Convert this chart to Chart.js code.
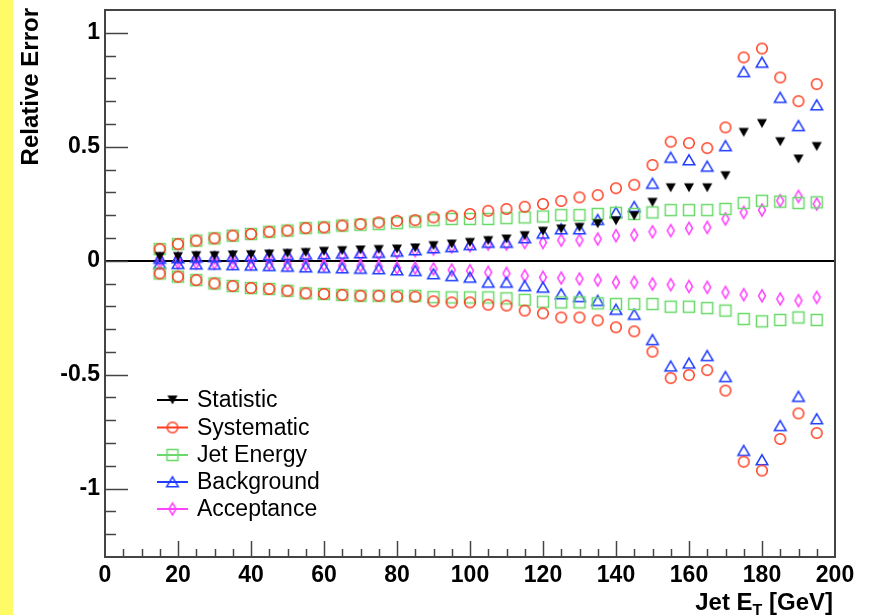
<!DOCTYPE html>
<html>
<head>
<meta charset="utf-8">
<title>Relative Error vs Jet ET</title>
<script src="https://cdn.jsdelivr.net/npm/chart.js@4.4.1/dist/chart.umd.min.js"></script>
<style>
  html, body { margin: 0; padding: 0; background: #ffffff; }
  canvas { display: block; }
</style>
</head>
<body>
<canvas id="errChart" width="870" height="615"></canvas>
<script>
// jet ET bin centres [GeV]
const jetEt = [15, 20, 25, 30, 35, 40, 45, 50, 55, 60, 65, 70, 75, 80, 85, 90, 95, 100, 105,
  110, 115, 120, 125, 130, 135, 140, 145, 150, 155, 160, 165, 170, 175, 180, 185, 190, 195];

const statistic = [0.018, 0.018, 0.022, 0.022, 0.025, 0.026, 0.029, 0.032, 0.036, 0.041, 0.044, 0.047, 0.049,
  0.051, 0.056, 0.066, 0.073, 0.080, 0.088, 0.095, 0.110, 0.129, 0.139, 0.146, 0.162,
  0.175, 0.197, 0.256, 0.320, 0.320, 0.320, 0.373, 0.563, 0.602, 0.522, 0.446, 0.501];

const systUp = [0.051, 0.073, 0.088, 0.098, 0.110, 0.117, 0.127, 0.132, 0.143, 0.146, 0.154, 0.161, 0.168,
  0.175, 0.178, 0.190, 0.197, 0.205, 0.219, 0.227, 0.237, 0.249, 0.262, 0.278, 0.288,
  0.318, 0.333, 0.420, 0.522, 0.516, 0.494, 0.585, 0.892, 0.931, 0.804, 0.700, 0.775];
const systDown = [-0.056, -0.070, -0.085, -0.100, -0.111, -0.120, -0.124, -0.132, -0.143, -0.146, -0.150, -0.154, -0.154,
  -0.158, -0.158, -0.178, -0.183, -0.183, -0.193, -0.197, -0.219, -0.231, -0.249, -0.249, -0.262,
  -0.292, -0.310, -0.399, -0.515, -0.502, -0.480, -0.570, -0.882, -0.921, -0.782, -0.670, -0.756];

const jesUp = [0.051, 0.073, 0.088, 0.098, 0.110, 0.117, 0.127, 0.132, 0.143, 0.146, 0.154, 0.158, 0.161,
  0.165, 0.172, 0.178, 0.183, 0.183, 0.183, 0.187, 0.190, 0.194, 0.200, 0.200, 0.205,
  0.210, 0.205, 0.212, 0.222, 0.222, 0.222, 0.227, 0.253, 0.263, 0.259, 0.253, 0.256];
const jesDown = [-0.056, -0.070, -0.085, -0.100, -0.111, -0.120, -0.124, -0.132, -0.143, -0.146, -0.150, -0.154, -0.154,
  -0.154, -0.154, -0.160, -0.161, -0.161, -0.161, -0.165, -0.172, -0.180, -0.183, -0.183, -0.187,
  -0.190, -0.190, -0.190, -0.202, -0.202, -0.208, -0.219, -0.256, -0.266, -0.260, -0.249, -0.260];

const bkgUp = [0.010, 0.012, 0.015, 0.017, 0.020, 0.022, 0.024, 0.026, 0.028, 0.030, 0.032, 0.034, 0.036,
  0.041, 0.047, 0.056, 0.061, 0.070, 0.080, 0.080, 0.100, 0.120, 0.139, 0.139, 0.180,
  0.212, 0.237, 0.339, 0.453, 0.442, 0.414, 0.504, 0.829, 0.870, 0.716, 0.592, 0.683];
const bkgDown = [-0.012, -0.013, -0.015, -0.016, -0.018, -0.020, -0.022, -0.025, -0.028, -0.030, -0.032, -0.034, -0.036,
  -0.041, -0.044, -0.058, -0.066, -0.073, -0.095, -0.095, -0.110, -0.117, -0.146, -0.158, -0.175,
  -0.214, -0.236, -0.347, -0.463, -0.450, -0.417, -0.509, -0.833, -0.874, -0.724, -0.596, -0.694];

const accUp = [0.008, 0.010, 0.011, 0.012, 0.013, 0.015, 0.016, 0.018, 0.020, 0.022, 0.024, 0.026, 0.029,
  0.036, 0.044, 0.051, 0.061, 0.066, 0.073, 0.073, 0.080, 0.080, 0.090, 0.090, 0.095,
  0.110, 0.113, 0.127, 0.132, 0.142, 0.146, 0.183, 0.212, 0.222, 0.263, 0.282, 0.249];
const accDown = [-0.008, -0.009, -0.010, -0.011, -0.012, -0.013, -0.014, -0.016, -0.018, -0.020, -0.022, -0.024, -0.026,
  -0.032, -0.032, -0.036, -0.041, -0.044, -0.051, -0.056, -0.066, -0.073, -0.076, -0.080, -0.085,
  -0.095, -0.095, -0.102, -0.105, -0.113, -0.117, -0.139, -0.149, -0.154, -0.168, -0.175, -0.161];

const seriesNames = ['Statistic', 'Systematic', 'Jet Energy', 'Background', 'Acceptance'];
const xTicks = [0, 20, 40, 60, 80, 100, 120, 140, 160, 180, 200];
const yTicks = [-1, -0.5, 0, 0.5, 1];

const FONT = '"Liberation Sans", Arial, Helvetica, sans-serif';

// root-style marker glyphs, drawn once and used as point images
function marker(shape, color) {
  const c = document.createElement('canvas');
  c.width = 16; c.height = 16;
  const g = c.getContext('2d');
  g.strokeStyle = color;
  g.fillStyle = color;
  g.lineWidth = 1.5;
  g.beginPath();
  if (shape === 'down') {
    g.moveTo(3, 3.5); g.lineTo(13, 3.5); g.lineTo(8, 12.5); g.closePath(); g.fill();
  } else if (shape === 'circle') {
    g.arc(8, 8, 5.3, 0, Math.PI * 2); g.stroke();
  } else if (shape === 'square') {
    g.rect(2.5, 2.5, 11, 11); g.stroke();
  } else if (shape === 'up') {
    g.moveTo(8, 2.8); g.lineTo(13.8, 12.8); g.lineTo(2.2, 12.8); g.closePath(); g.stroke();
  } else if (shape === 'diamond') {
    g.moveTo(8, 2); g.lineTo(11.5, 8); g.lineTo(8, 14); g.lineTo(4.5, 8); g.closePath(); g.stroke();
  }
  return c;
}

const colors = ['#000000', '#ff3c1e', '#6ad96a', '#1e3cff', '#ff44ff'];
const markers = [
  marker('down', colors[0]),
  marker('circle', colors[1]),
  marker('square', colors[2]),
  marker('up', colors[3]),
  marker('diamond', colors[4])
];

function pts(up, down) {
  const out = jetEt.map((x, i) => ({ x: x, y: up[i] }));
  if (down) jetEt.forEach((x, i) => out.push({ x: x, y: down[i] }));
  return out;
}

const seriesData = [
  pts(statistic),
  pts(systUp, systDown),
  pts(jesUp, jesDown),
  pts(bkgUp, bkgDown),
  pts(accUp, accDown)
];

const datasets = seriesNames.map((name, i) => ({
  label: name,
  data: seriesData[i],
  pointStyle: markers[i],
  pointRadius: 8,
  pointHoverRadius: 8,
  showLine: false
}));

// frame, root ticks, zero line, titles, legend
const rootDecor = {
  id: 'rootDecor',
  beforeDraw(chart) {
    const ctx = chart.ctx;
    ctx.save();
    ctx.fillStyle = '#fffb66';
    ctx.fillRect(0, 0, 13, chart.height);
    ctx.restore();
  },
  beforeDatasetsDraw(chart) {
    const { ctx, chartArea: a, scales: { x, y } } = chart;
    ctx.save();
    // zero line
    ctx.strokeStyle = '#000000';
    ctx.lineWidth = 2;
    const y0 = Math.round(y.getPixelForValue(0));
    ctx.beginPath();
    ctx.moveTo(a.left, y0); ctx.lineTo(a.right, y0);
    ctx.stroke();

    ctx.strokeStyle = '#444444';
    ctx.lineWidth = 1.5;
    // y ticks on the left edge
    for (let k = -12; k <= 10; k++) {
      const v = k / 10;
      const py = Math.round(y.getPixelForValue(v)) + 0.5;
      const len = (k % 5 === 0) ? 23 : 11;
      ctx.beginPath();
      ctx.moveTo(a.left, py); ctx.lineTo(a.left + len, py);
      ctx.stroke();
    }
    // x ticks on the bottom edge
    for (let v = 5; v < 200; v += 5) {
      const px = Math.round(x.getPixelForValue(v)) + 0.5;
      const len = (v % 20 === 0) ? 16 : 8;
      ctx.beginPath();
      ctx.moveTo(px, a.bottom); ctx.lineTo(px, a.bottom - len);
      ctx.stroke();
    }
    // frame
    ctx.lineWidth = 2;
    ctx.strokeRect(a.left, a.top, a.right - a.left, a.bottom - a.top);
    ctx.restore();
  },
  afterDraw(chart) {
    const { ctx, chartArea: a } = chart;
    ctx.save();
    ctx.fillStyle = '#000000';

    // y title
    ctx.font = 'bold 24px ' + FONT;
    ctx.translate(31, a.top - 2);
    ctx.rotate(-Math.PI / 2);
    ctx.textAlign = 'right';
    ctx.textBaseline = 'middle';
    ctx.fillText('Relative Error', 0, 0);
    ctx.setTransform(1, 0, 0, 1, 0, 0);

    // x title with subscript
    const big = 'bold 24px ' + FONT;
    const small = 'bold 16px ' + FONT;
    ctx.textAlign = 'left';
    ctx.textBaseline = 'alphabetic';
    ctx.font = big;
    const w1 = ctx.measureText('Jet E').width;
    const w3 = ctx.measureText(' [GeV]').width;
    ctx.font = small;
    const w2 = ctx.measureText('T').width;
    let tx = a.right - 2 - (w1 + w2 + w3);
    const base = 610;
    ctx.font = big;
    ctx.fillText('Jet E', tx, base);
    tx += w1;
    ctx.font = small;
    ctx.fillText('T', tx, base + 6);
    tx += w2;
    ctx.font = big;
    ctx.fillText(' [GeV]', tx, base);

    // legend
    ctx.font = '23px ' + FONT;
    ctx.textBaseline = 'middle';
    const rowY = [400, 427.5, 455, 482, 509];
    seriesNames.forEach((name, i) => {
      const ly = rowY[i];
      ctx.strokeStyle = colors[i];
      ctx.lineWidth = 2;
      ctx.beginPath();
      ctx.moveTo(157, ly); ctx.lineTo(188, ly);
      ctx.stroke();
      const m = markers[i];
      ctx.drawImage(m, 172.5 - m.width / 2, ly - m.height / 2);
      ctx.fillStyle = '#000000';
      ctx.fillText(name, 197, ly + 1);
    });
    ctx.restore();
  }
};

const tickFont = { family: FONT, size: 23, weight: 'bold' };

new Chart(document.getElementById('errChart'), {
  type: 'scatter',
  data: { datasets: datasets },
  options: {
    responsive: false,
    animation: false,
    devicePixelRatio: 1,
    layout: { padding: { left: 13, right: 35, top: 10, bottom: 0 } },
    plugins: {
      legend: { display: false },
      tooltip: { enabled: false }
    },
    events: [],
    scales: {
      x: {
        type: 'linear',
        min: 0,
        max: 200,
        afterBuildTicks: s => { s.ticks = xTicks.map(v => ({ value: v })); },
        afterFit: s => { s.height = 58; s.paddingLeft = 0; s.paddingRight = 0; },
        grid: { display: false, drawTicks: false },
        border: { display: false },
        ticks: { font: tickFont, color: '#000000', padding: 5, maxRotation: 0, autoSkip: false }
      },
      y: {
        type: 'linear',
        min: -1.3,
        max: 1.1,
        afterBuildTicks: s => { s.ticks = yTicks.map(v => ({ value: v })); },
        afterFit: s => { s.width = 92; s.paddingTop = 0; s.paddingBottom = 0; },
        grid: { display: false, drawTicks: false },
        border: { display: false },
        ticks: { font: tickFont, color: '#000000', padding: 5, autoSkip: false,
          callback: v => String(v) }
      }
    }
  },
  plugins: [rootDecor]
});
</script>
</body>
</html>
